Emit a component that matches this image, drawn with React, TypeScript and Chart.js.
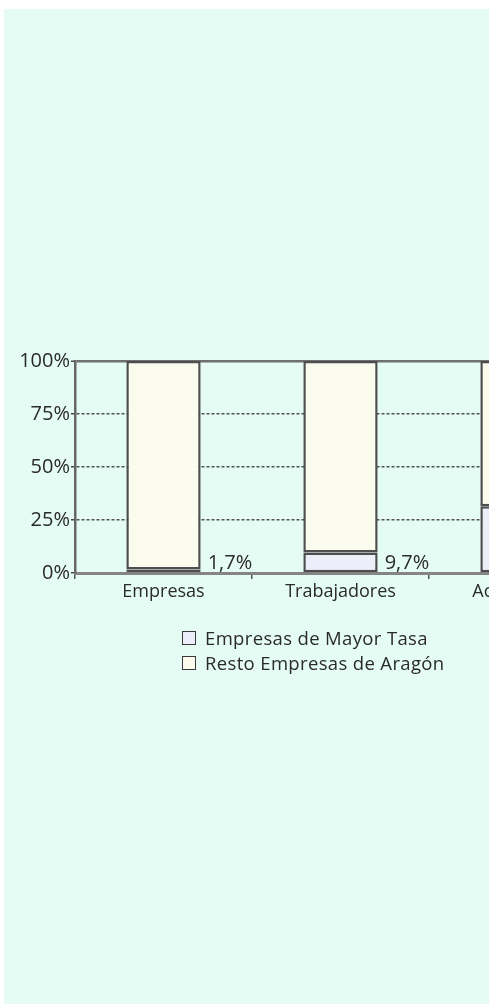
import React, { useEffect, useRef } from "react";
import { Chart, registerables } from "chart.js";

Chart.register(...registerables);

const categories = ["Empresas", "Trabajadores", "Accidentes"];
const mayorTasa = [1.7, 9.7, 31.5];
const resto = [98.3, 90.3, 68.5];
const yTicks = [0, 25, 50, 75, 100];
const seriesLabels = ["Empresas de Mayor Tasa", "Resto Empresas de Aragón"];
const seriesColors = ["#eceff9", "#fcfcee"];

const FONT = "'Open Sans', 'Noto Sans', sans-serif";
const TEXT = "#2a2a2a";

const valueLabels = {
  id: "valueLabels",
  afterDatasetsDraw(chart: any) {
    const { ctx } = chart;
    const meta = chart.getDatasetMeta(0);
    const yScale = chart.scales.y;
    const base = yScale.getPixelForValue(0);
    ctx.save();
    ctx.font = `20px ${FONT}`;
    ctx.fillStyle = TEXT;
    ctx.textAlign = "left";
    ctx.textBaseline = "alphabetic";
    meta.data.forEach((el: any, i: number) => {
      const { x, width } = el.getProps(["x", "width"], true);
      const v = chart.data.datasets[0].data[i] as number;
      const txt = v.toFixed(1).replace(".", ",") + "%";
      ctx.fillText(txt, x + width / 2 + 7, base - 4);
    });
    ctx.restore();
  },
};

function App() {
  const ref = useRef<HTMLCanvasElement | null>(null);
  useEffect(() => {
    if (!ref.current) return;
    const chart = new Chart(ref.current, {
      type: "bar",
      data: {
        labels: categories,
        datasets: [
          {
            label: seriesLabels[0],
            data: mayorTasa,
            backgroundColor: seriesColors[0],
            borderColor: "#4e4e4e",
            borderWidth: 2.5,
            borderSkipped: false,
            barPercentage: 0.42,
            categoryPercentage: 1,
          },
          {
            label: seriesLabels[1],
            data: resto,
            backgroundColor: seriesColors[1],
            borderColor: "#4e4e4e",
            borderWidth: 2.5,
            borderSkipped: false,
            barPercentage: 0.42,
            categoryPercentage: 1,
          },
        ],
      },
      options: {
        responsive: false,
        animation: false,
        devicePixelRatio: 1,
        layout: { padding: { top: 361, right: 94, left: 0, bottom: 0 } },
        plugins: { legend: { display: false }, tooltip: { enabled: false } },
        scales: {
          x: {
            stacked: true,
            afterFit: (s: any) => {
              s.height = 1005 - 573;
            },
            grid: {
              display: true,
              offset: true,
              drawOnChartArea: false,
              drawTicks: true,
              tickLength: 6,
              color: "#555",
              lineWidth: 1.5,
            },
            border: { display: true, color: "#858585", width: 3 },
            ticks: {
              padding: 2,
              font: { family: FONT, size: 18 },
              color: TEXT,
              maxRotation: 0,
              autoSkip: false,
            },
          },
          y: {
            stacked: true,
            min: 0,
            max: 100,
            afterFit: (s: any) => {
              s.width = 75;
            },
            afterBuildTicks: (s: any) => {
              s.ticks = yTicks.map((v) => ({ value: v }));
            },
            grid: {
              display: true,
              drawTicks: true,
              tickLength: 4,
              tickColor: "#444",
              tickWidth: 1.5,
              color: (c: any) =>
                c.tick && c.tick.value === 0
                  ? "rgba(0,0,0,0)"
                  : c.tick && c.tick.value === 100
                  ? "#707070"
                  : "#505050",
              lineWidth: (c: any) => (c.tick && c.tick.value === 100 ? 2.5 : 1.5),
            },
            border: {
              display: true,
              color: "#666",
              width: 2.5,
              dash: (c: any) => (c.tick && c.tick.value === 100 ? [] : [3, 2]),
            },
            ticks: {
              padding: 1,
              font: { family: FONT, size: 20 },
              color: TEXT,
              callback: (v: any) => v + "%",
            },
          },
        },
      },
      plugins: [valueLabels],
    });
    return () => chart.destroy();
  }, []);

  const legendRow = (i: number, top: number) => (
    <div
      key={i}
      style={{
        position: "absolute",
        left: 182,
        top,
        display: "flex",
        alignItems: "center",
        whiteSpace: "nowrap",
      }}
    >
      <span
        style={{
          display: "inline-block",
          width: 12,
          height: 12,
          border: "1.5px solid #3a3a3a",
          background: seriesColors[i],
          marginRight: 9,
        }}
      />
      <span style={{ fontFamily: FONT, fontSize: 18.5, color: TEXT, letterSpacing: 0.35 }}>
        {seriesLabels[i]}
      </span>
    </div>
  );

  return (
    <div style={{ position: "fixed", left: 0, top: 0, width: 495, height: 1005, background: "#fff", overflow: "hidden" }}>
      <div
        style={{
          position: "absolute",
          left: 4,
          top: 9,
          width: 485,
          height: 995,
          background: "#e5fcf5",
          overflow: "hidden",
        }}
      >
        <canvas
          ref={ref}
          width={700}
          height={1005}
          style={{ position: "absolute", left: -4, top: -9, width: 700, height: 1005 }}
        />
        <div style={{ position: "absolute", left: -4, top: -9, width: 700, height: 1005 }}>
          {legendRow(0, 625)}
          {legendRow(1, 650)}
        </div>
      </div>
    </div>
  );
}

export default App;
